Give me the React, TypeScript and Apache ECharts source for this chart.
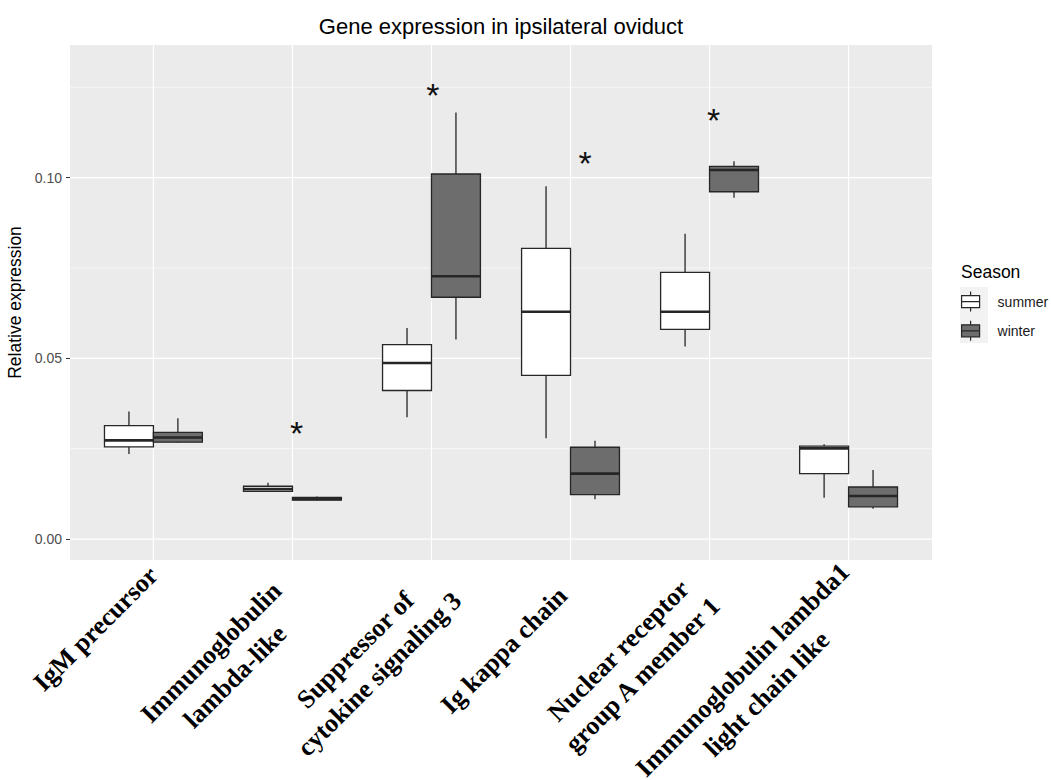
import React, { useEffect, useRef } from 'react';
import * as echarts from 'echarts';

// ---------- data ----------
const categories = [
  'IgM precursor',
  'Immunoglobulin\nlambda-like',
  'Suppressor of\ncytokine signaling 3',
  'Ig kappa chain',
  'Nuclear receptor\ngroup A member 1',
  'Immunoglobulin lambda1\nlight chain like',
];
const seasons = ['summer', 'winter'];

// [lower whisker, Q1, median, Q3, upper whisker]
const summerStats = [
  [0.0235, 0.0255, 0.0273, 0.0314, 0.0353],
  [0.0132, 0.0132, 0.0138, 0.0146, 0.0156],
  [0.0337, 0.0411, 0.0487, 0.0538, 0.0584],
  [0.0279, 0.0453, 0.0629, 0.0804, 0.0976],
  [0.0533, 0.058, 0.0629, 0.0738, 0.0845],
  [0.0114, 0.0181, 0.0251, 0.0257, 0.0262],
];
const winterStats = [
  [0.0266, 0.0268, 0.0281, 0.0295, 0.0334],
  [0.0107, 0.0108, 0.0111, 0.0115, 0.0118],
  [0.0552, 0.0669, 0.0727, 0.101, 0.118],
  [0.011, 0.0123, 0.0181, 0.0254, 0.0272],
  [0.0944, 0.0961, 0.1021, 0.1031, 0.1045],
  [0.0084, 0.0089, 0.0119, 0.0144, 0.0191],
];
// significance stars: [x position (category units), y value]
const significance = [
  [2.03, 0.0306],
  [3.01, 0.1242],
  [4.105, 0.1053],
  [5.03, 0.1172],
];
const yMajorTicks = [0, 0.05, 0.1];
const yMinorTicks = [0.025, 0.075, 0.125];
const xTicks = [1, 2, 3, 4, 5, 6];

// ---------- styles ----------
const SUMMER_FILL = '#ffffff';
const WINTER_FILL = '#6d6d6d';
const BOX_STROKE = '#262626';
const BOX_HALF = 0.176;
const DODGE = 0.176;
const LABEL_FONT = 26;
const LABEL_LINE = 34;
// per-label placement tweaks (px): shift back along the text / shift across it
const labelBack = [0, 22, 0, 20, 16, 0];
const labelDrop = [0, 0, 2, 9, -8, -5];

function boxRenderer(fill: string) {
  return (params: any, api: any) => {
    const x = api.value(0);
    const lo = api.value(1);
    const q1 = api.value(2);
    const med = api.value(3);
    const q3 = api.value(4);
    const hi = api.value(5);
    const tl = api.coord([x - BOX_HALF, q3]);
    const br = api.coord([x + BOX_HALF, q1]);
    const cLo = api.coord([x, lo]);
    const cQ1 = api.coord([x, q1]);
    const cQ3 = api.coord([x, q3]);
    const cHi = api.coord([x, hi]);
    const cMed = api.coord([x, med]);
    const ls = { stroke: BOX_STROKE, lineWidth: 1.3 };
    return {
      type: 'group',
      children: [
        { type: 'line', shape: { x1: cHi[0], y1: cHi[1], x2: cQ3[0], y2: cQ3[1] }, style: ls },
        { type: 'line', shape: { x1: cQ1[0], y1: cQ1[1], x2: cLo[0], y2: cLo[1] }, style: ls },
        {
          type: 'rect',
          shape: { x: tl[0], y: tl[1], width: br[0] - tl[0], height: br[1] - tl[1] },
          style: { fill, stroke: BOX_STROKE, lineWidth: 1.3 },
        },
        {
          type: 'line',
          shape: { x1: tl[0], y1: cMed[1], x2: br[0], y2: cMed[1] },
          style: { stroke: BOX_STROKE, lineWidth: 2.6 },
        },
      ],
    };
  };
}

function gridRenderer(params: any, api: any) {
  const cs = params.coordSys;
  const orient = api.value(0);
  const v = api.value(1);
  const major = api.value(2) === 1;
  const style = { stroke: '#ffffff', lineWidth: major ? 1.2 : 0.6 };
  if (orient === 0) {
    const y = api.coord([1, v])[1];
    return { type: 'line', shape: { x1: cs.x, y1: y, x2: cs.x + cs.width, y2: y }, style };
  }
  const x = api.coord([v, 0])[0];
  return { type: 'line', shape: { x1: x, y1: cs.y, x2: x, y2: cs.y + cs.height }, style };
}

function starRenderer(params: any, api: any) {
  const p = api.coord([api.value(0), api.value(1)]);
  return {
    type: 'text',
    x: p[0],
    y: p[1] + 5,
    style: {
      text: '*',
      fontSize: 34,
      fontFamily: 'Liberation Sans',
      fill: '#111',
      align: 'center',
      verticalAlign: 'middle',
    },
  };
}

const LEGEND_ICON = 'path://M9,0V4M0,4H18V16H0ZM0,10H18M9,16V20';

function spacers(idx: number) {
  const lines = categories[idx].split('\n').length;
  const top = (lines - 1) * LABEL_LINE + Math.max(0, 2 * labelDrop[idx]);
  const bottom = Math.max(0, -2 * labelDrop[idx]);
  return { top, bottom };
}

function buildRich() {
  const rich: any = {};
  categories.forEach((_, i) => {
    rich['c' + i] = {
      align: 'center',
      fontFamily: 'Liberation Serif',
      fontWeight: 'bold',
      fontSize: LABEL_FONT,
      lineHeight: LABEL_LINE,
      color: '#000',
      padding: [0, labelBack[i], 0, 0],
    };
    const s = spacers(i);
    rich['t' + i] = { fontSize: 1, lineHeight: s.top };
    rich['b' + i] = { fontSize: 1, lineHeight: s.bottom };
  });
  return rich;
}

function formatLabel(v: number) {
  const idx = Math.round(v) - 1;
  const label = categories[idx];
  if (!label) return '';
  const lines = label.split('\n');
  const s = spacers(idx);
  let out = lines.map((l) => `{c${idx}|${l}}`).join('\n');
  if (s.top > 0) out = `{t${idx}| }\n` + out;
  if (s.bottom > 0) out = out + `\n{b${idx}| }`;
  return out;
}

export default function App() {
  const ref = useRef<HTMLDivElement>(null);
  useEffect(() => {
    document.body.style.margin = '0';
    if (!ref.current) return;
    const chart = echarts.init(ref.current, null, { renderer: 'svg' });

    const gridData = [
      ...yMinorTicks.map((v) => [0, v, 0]),
      ...yMajorTicks.map((v) => [0, v, 1]),
      ...xTicks.map((v) => [1, v, 1]),
    ];
    const summerData = summerStats.map((s, i) => [i + 1 - DODGE, ...s]);
    const winterData = winterStats.map((s, i) => [i + 1 + DODGE, ...s]);

    const option: any = {
      animation: false,
      textStyle: { fontFamily: 'Liberation Sans' },
      title: [
        {
          text: 'Gene expression in ipsilateral oviduct',
          left: 496,
          top: 10,
          textAlign: 'center',
          textStyle: { fontSize: 22, fontWeight: 'normal', color: '#000', fontFamily: 'Liberation Sans' },
        },
        {
          text: 'Season',
          left: 956,
          top: 258,
          textStyle: { fontSize: 17.5, fontWeight: 'normal', color: '#000', fontFamily: 'Liberation Sans' },
        },
      ],
      legend: {
        orient: 'vertical',
        left: 956,
        top: 286,
        itemWidth: 18,
        itemHeight: 20,
        itemGap: 8,
        selectedMode: false,
        textStyle: { fontSize: 14, color: '#1a1a1a', padding: [0, 0, 0, 13], fontFamily: 'Liberation Sans' },
        data: [
          { name: 'summer', icon: LEGEND_ICON, itemStyle: { color: SUMMER_FILL, borderColor: BOX_STROKE, borderWidth: 1.2 } },
          { name: 'winter', icon: LEGEND_ICON, itemStyle: { color: WINTER_FILL, borderColor: BOX_STROKE, borderWidth: 1.2 } },
        ],
      },
      graphic: [
        { type: 'rect', left: 960, top: 287, shape: { width: 28, height: 28 }, style: { fill: '#f2f2f2' }, z: -1 },
        { type: 'rect', left: 960, top: 315, shape: { width: 28, height: 28 }, style: { fill: '#f2f2f2' }, z: -1 },
      ],
      grid: {
        left: 70,
        right: 119,
        top: 45,
        bottom: 220,
        show: true,
        backgroundColor: '#EBEBEB',
        borderWidth: 0,
        containLabel: false,
        outerBoundsMode: 'none',
      },
      xAxis: {
        type: 'value',
        min: 0.4,
        max: 6.6,
        axisLine: { show: false },
        splitLine: { show: false },
        axisTick: { show: true, customValues: xTicks, length: 4, lineStyle: { color: '#333' } },
        axisLabel: {
          customValues: xTicks,
          rotate: 45,
          margin: 11,
          align: 'right',
          verticalAlign: 'middle',
          formatter: formatLabel,
          rich: buildRich(),
        },
      },
      yAxis: {
        type: 'value',
        min: -0.0058,
        max: 0.1367,
        axisLine: { show: false },
        splitLine: { show: false },
        axisTick: { show: true, customValues: yMajorTicks, length: 4, lineStyle: { color: '#333' } },
        axisLabel: {
          customValues: yMajorTicks,
          formatter: (v: number) => v.toFixed(2),
          color: '#4D4D4D',
          fontSize: 14,
          margin: 8,
        },
        name: 'Relative expression',
        nameLocation: 'middle',
        nameGap: 45,
        nameTextStyle: { fontSize: 17.5, color: '#000' },
      },
      series: [
        {
          type: 'custom',
          name: 'grid',
          silent: true,
          z: 1,
          renderItem: gridRenderer,
          data: gridData,
        },
        {
          type: 'custom',
          name: seasons[0],
          z: 2,
          itemStyle: { color: SUMMER_FILL },
          renderItem: boxRenderer(SUMMER_FILL),
          encode: { x: 0, y: [1, 2, 3, 4, 5] },
          data: summerData,
        },
        {
          type: 'custom',
          name: seasons[1],
          z: 2,
          itemStyle: { color: WINTER_FILL },
          renderItem: boxRenderer(WINTER_FILL),
          encode: { x: 0, y: [1, 2, 3, 4, 5] },
          data: winterData,
        },
        {
          type: 'custom',
          name: 'significance',
          z: 3,
          silent: true,
          renderItem: starRenderer,
          data: significance,
        },
      ],
    };
    chart.setOption(option);
    return () => chart.dispose();
  }, []);
  return <div ref={ref} style={{ width: 1051, height: 780 }} />;
}
